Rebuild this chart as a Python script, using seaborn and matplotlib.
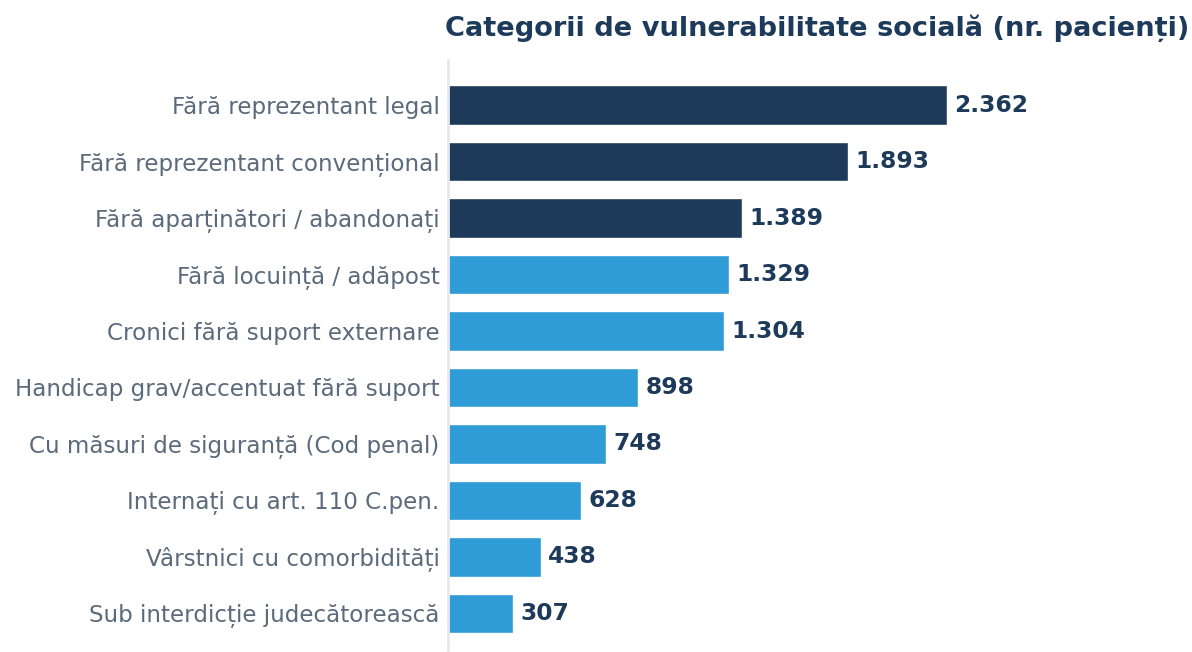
import numpy as np
import pandas as pd
import seaborn as sb
import matplotlib.pyplot as plt

categories = [
    'Fără reprezentant legal',
    'Fără reprezentant convențional',
    'Fără aparținători / abandonați',
    'Fără locuință / adăpost',
    'Cronici fără suport externare',
    'Handicap grav/accentuat fără suport',
    'Cu măsuri de siguranță (Cod penal)',
    'Internați cu art. 110 C.pen.',
    'Vârstnici cu comorbidități',
    'Sub interdicție judecătorească',
]
values = [2362, 1893, 1389, 1329, 1304, 898, 748, 628, 438, 307]
groups = ['top'] * 3 + ['rest'] * 7
labels = ['2.362', '1.893', '1.389', '1.329', '1.304', '898', '748', '628', '438', '307']

navy = '#1d3a5a'
blue = '#2f9bd7'

df = pd.DataFrame({'cat': categories, 'val': values, 'grp': groups})

sb.set_style('white')
plt.rcParams['font.family'] = ['DejaVu Sans']

fig = plt.figure(figsize=(11.92, 6.52), dpi=100)
ax = fig.add_axes([448 / 1192, 2 / 652, 740 / 1192, 590 / 652])

sb.barplot(data=df, x='val', y='cat', hue='grp', palette={'top': navy, 'rest': blue},
           dodge=False, legend=False, width=0.7, saturation=1, ax=ax)

for p, lab in zip(ax.patches, labels):
    ax.text(p.get_width() + 35, p.get_y() + p.get_height() / 2, lab,
            va='center', ha='left', fontsize=16.8, fontweight='bold', color=navy)

ax.set_xlim(0, 3502)
ax.set_ylim(9.65, -0.8)
ax.set_xlabel('')
ax.set_ylabel('')
ax.set_xticks([])
ax.tick_params(axis='y', length=0, pad=6, labelsize=16.6, labelcolor='#5b6b7c')
for s in ['top', 'right', 'bottom']:
    ax.spines[s].set_visible(False)
ax.spines['left'].set_color('#e6e8eb')
ax.spines['left'].set_linewidth(2)

fig.text(817 / 1192, 1 - 28 / 652, 'Categorii de vulnerabilitate socială (nr. pacienți)',
         ha='center', va='center', fontsize=19.6, fontweight='bold', color=navy)

fig.savefig('out.png', dpi=100)
